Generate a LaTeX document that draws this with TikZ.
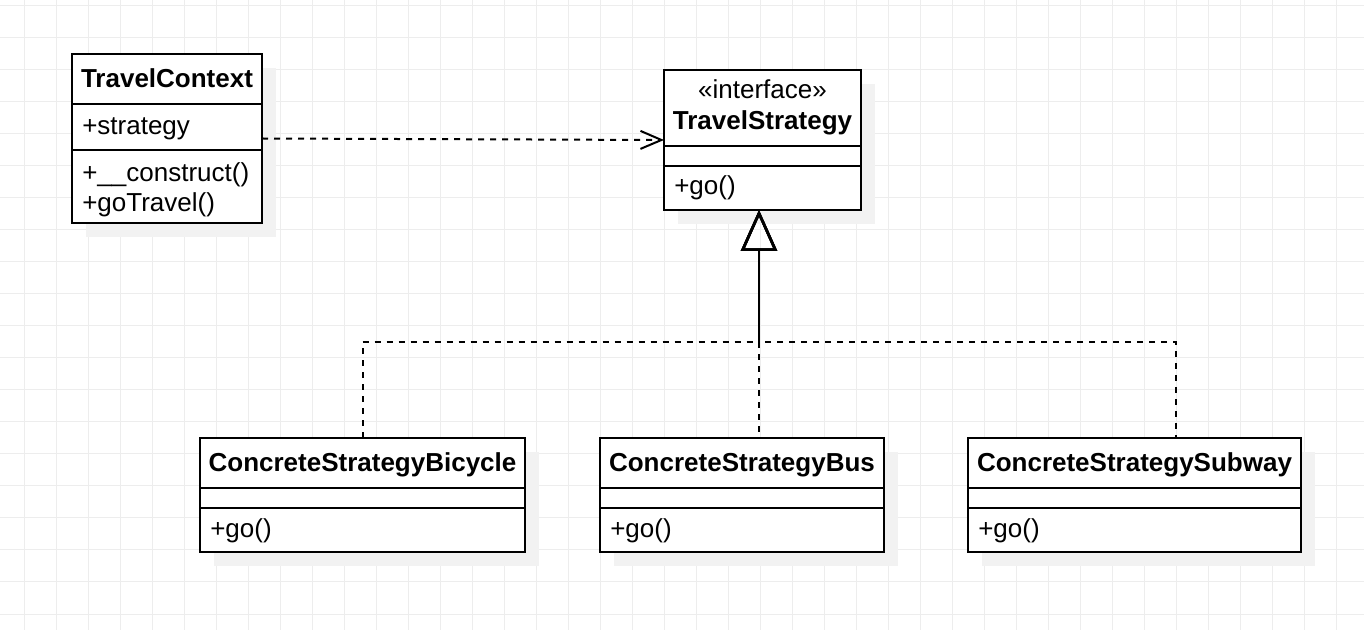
\documentclass[tikz,border=0pt]{standalone}
\usepackage{fontspec}
\setmainfont{Liberation Sans}
\usetikzlibrary{arrows.meta,shadows}
\definecolor{gridc}{HTML}{EDEDED}
\definecolor{shadowc}{HTML}{F2F2F2}
\tikzset{
 classbox/.style={draw=black, line width=1.5pt, fill=white, inner sep=0pt, outer sep=0pt, anchor=north west,
   drop shadow={shadow xshift=10.5pt, shadow yshift=-10.5pt, fill=shadowc, opacity=1}},
 divider/.style={draw=black, line width=1.5pt},
 hdr/.style={font=\fontsize{19.5pt}{23pt}\selectfont\bfseries, inner sep=0pt, anchor=base},
 mem/.style={font=\fontsize{19.5pt}{23pt}\selectfont, inner sep=0pt, anchor=base west},
 stereo/.style={font=\fontsize{19.5pt}{23pt}\selectfont, inner sep=0pt, anchor=base},
 dep/.style={draw=black, line width=1.5pt, dash pattern=on 4.5pt off 4.5pt,
   -{Straight Barb[length=15.75pt,width=13.5pt,line width=1.5pt]}},
 real/.style={draw=black, line width=1.5pt, dash pattern=on 4.5pt off 4.5pt,
   -{Triangle[open,length=30.75pt,width=27pt,line width=2pt]}},
 gridline/.style={draw=gridc, line width=0.75pt}
}
\begin{document}
\begin{tikzpicture}[x=0.75pt,y=-0.75pt]
\useasboundingbox (0,0) rectangle (1364,630);
\fill[white] (0,0) rectangle (1364,630);
\foreach \gx in {24,56,...,1360} \draw[gridline] (\gx,0) -- (\gx,630);
\foreach \gy in {6,38,...,630} \draw[gridline] (0,\gy) -- (1364,\gy);

% TravelContext
\node[classbox, minimum width=142.5pt, minimum height=126.75pt] (tc) at (72,54) {};
\draw[divider] (tc.west |- 0,104) -- (tc.east |- 0,104);
\draw[divider] (tc.west |- 0,150) -- (tc.east |- 0,150);
\node[hdr] (tcname) at (167,88) {TravelContext};
\node[mem] (tcattr) at (82,135) {+strategy};
\node[mem] (tcm1) at (82,182) {+\_\_construct()};
\node[mem] (tcm2) at (82,212) {+goTravel()};

% TravelStrategy
\node[classbox, minimum width=147.75pt, minimum height=105pt] (ts) at (664,70) {};
\draw[divider] (ts.west |- 0,146) -- (ts.east |- 0,146);
\draw[divider] (ts.west |- 0,166) -- (ts.east |- 0,166);
\node[stereo] (tsst) at (762.5,99) {«interface»};
\node[hdr] (tsname) at (762.5,130) {TravelStrategy};
\node[mem] (tsm) at (674,195) {+go()};

% ConcreteStrategyBicycle
\node[classbox, minimum width=243.75pt, minimum height=85.5pt] (bic) at (200,438) {};
\draw[divider] (bic.west |- 0,488) -- (bic.east |- 0,488);
\draw[divider] (bic.west |- 0,508) -- (bic.east |- 0,508);
\node[hdr] (bicname) at (362.5,472) {ConcreteStrategyBicycle};
\node[mem] (bicm) at (210,538) {+go()};

% ConcreteStrategyBus
\node[classbox, minimum width=213pt, minimum height=85.5pt] (bus) at (600,438) {};
\draw[divider] (bus.west |- 0,488) -- (bus.east |- 0,488);
\draw[divider] (bus.west |- 0,508) -- (bus.east |- 0,508);
\node[hdr] (busname) at (742,472) {ConcreteStrategyBus};
\node[mem] (busm) at (610,538) {+go()};

% ConcreteStrategySubway
\node[classbox, minimum width=249.75pt, minimum height=85.5pt] (sub) at (968,438) {};
\draw[divider] (sub.west |- 0,488) -- (sub.east |- 0,488);
\draw[divider] (sub.west |- 0,508) -- (sub.east |- 0,508);
\node[hdr] (subname) at (1134.5,472) {ConcreteStrategySubway};
\node[mem] (subm) at (978,538) {+go()};

% connectors
\coordinate (gtip) at (759,210);
\coordinate (gjoin) at (759,342);
\draw[dep] (tc.east) -- (ts.west);
\draw[real] (bic.north) |- (gjoin) -- (gtip);
\draw[real, dash phase=2.25pt] (sub.north -| 1176,0) |- (gjoin) -- (gtip);
\draw[real, dash phase=4.5pt] (bus.north -| gtip) -- (gtip);
\end{tikzpicture}
\end{document}
